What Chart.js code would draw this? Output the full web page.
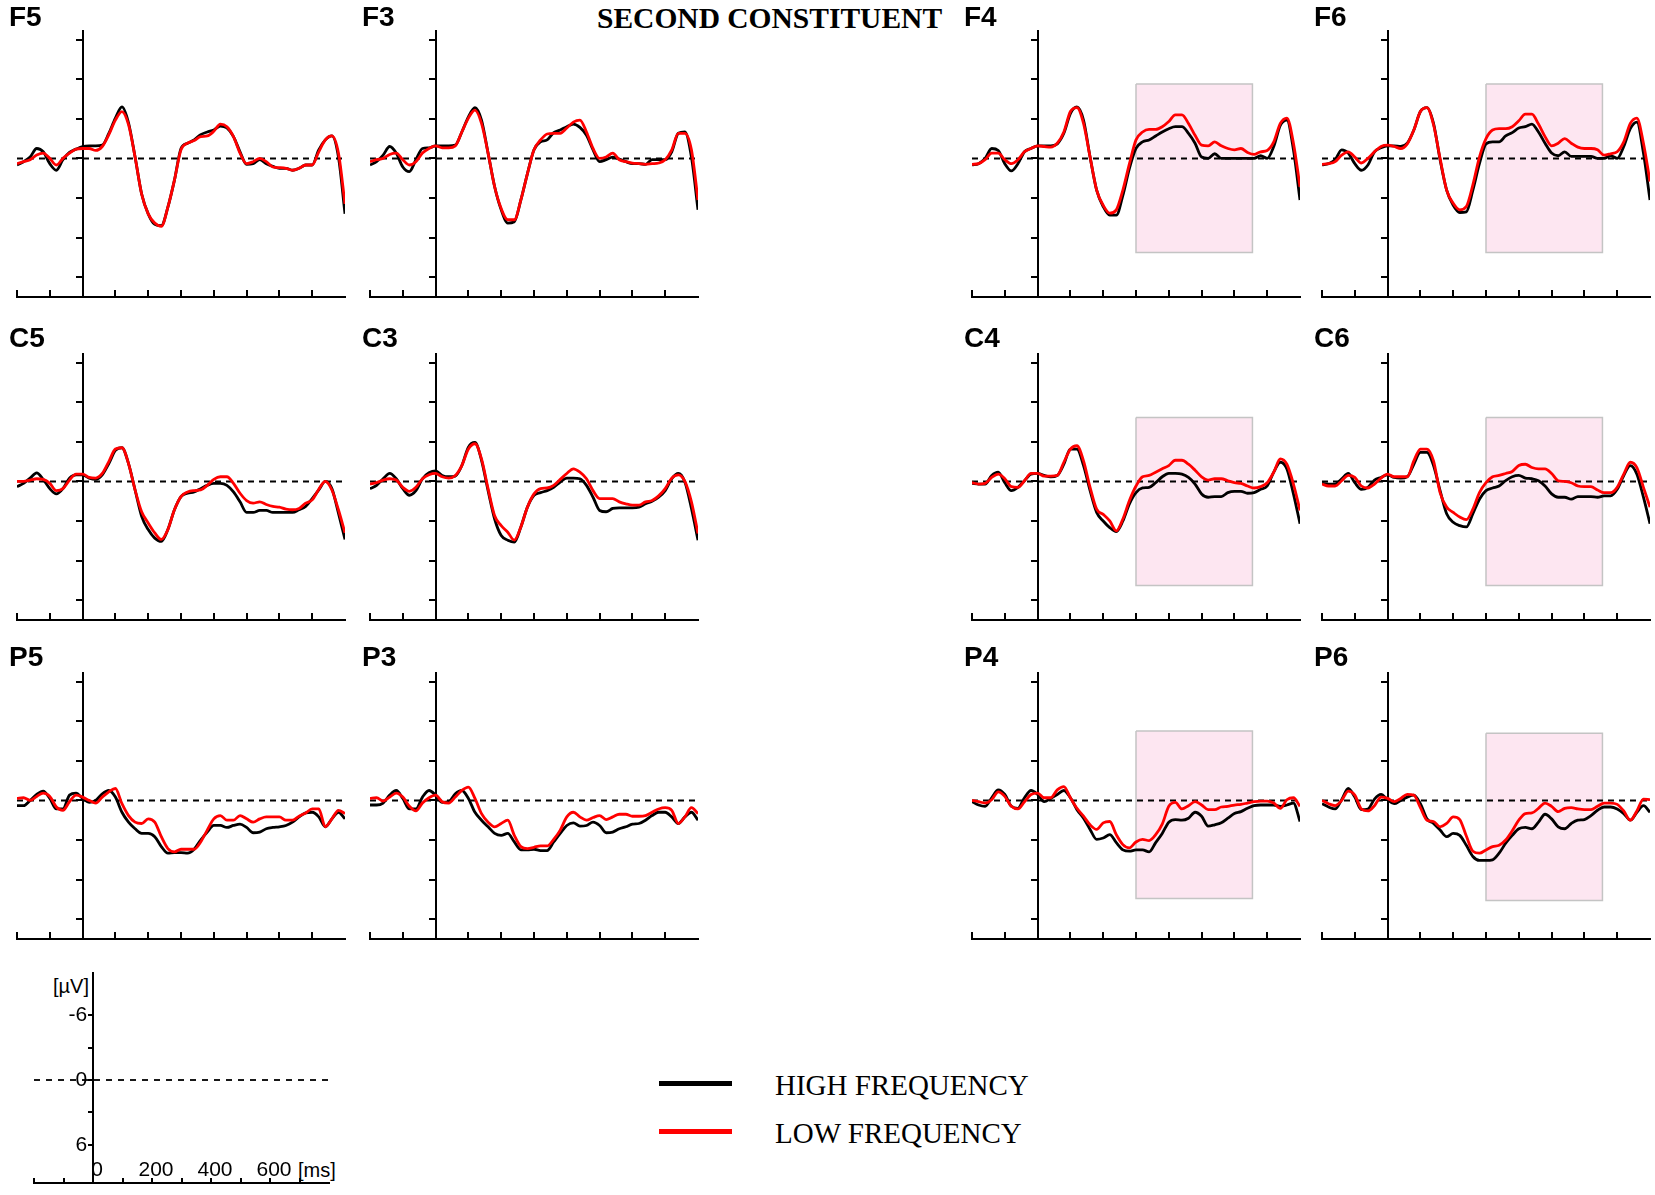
<!DOCTYPE html>
<html>
<head>
<meta charset="utf-8">
<title>Second constituent ERPs</title>
<script src="https://cdn.jsdelivr.net/npm/chart.js@4.4.7/dist/chart.umd.min.js"></script>
<style>
  html, body { margin: 0; padding: 0; background: #fff; }
  body { position: relative; width: 1655px; height: 1195px; overflow: hidden; font-family: "Liberation Sans", Arial, sans-serif; color: #000; }
  canvas { position: absolute; }
  .site { position: absolute; font-weight: bold; font-size: 28px; line-height: 28px; }
  .title { position: absolute; left: 597px; top: 4px; font-family: "Liberation Serif", "Times New Roman", serif; font-weight: bold; font-size: 29.5px; line-height: 28px; white-space: nowrap; }
  .unit { position: absolute; font-size: 20px; line-height: 20px; white-space: nowrap; }
  .key-line { position: absolute; left: 659px; width: 73px; height: 5px; }
  .key-text { position: absolute; left: 775px; font-family: "Liberation Serif", "Times New Roman", serif; font-size: 29px; line-height: 29px; white-space: nowrap; }
</style>
</head>
<body>
<div class="title">SECOND CONSTITUENT</div>
<div class="unit" style="left:53px;top:976px">[µV]</div>
<div class="unit" style="left:298px;top:1160px">[ms]</div>
<div class="key-line" style="top:1081px;background:#000"></div>
<div class="key-line" style="top:1129px;background:#ff0000"></div>
<div class="key-text" style="top:1071px">HIGH FREQUENCY</div>
<div class="key-text" style="top:1119px">LOW FREQUENCY</div>
<script>
Chart.defaults.font.family = '"Liberation Sans", Arial, sans-serif';
Chart.defaults.color = '#000';
Chart.defaults.animation = false;

// sample times in ms, shared by every waveform
const times = [-200, -180, -160, -140, -120, -100, -80, -60, -40, -20,
  0, 20, 40, 60, 80, 100, 120, 140, 160, 180, 200, 220, 240, 260, 280, 300,
  320, 340, 360, 380, 400, 420, 440, 460, 480, 500, 520, 540, 560, 580, 600,
  620, 640, 660, 680, 700, 720, 740, 760, 780, 800];

// amplitudes in µV (negative plotted up)
const f5High = [0.5, 0.25, -0.1, -0.75, -0.5, 0.4, 0.9, 0.1, -0.45, -0.7, -0.9, -0.95, -0.95, -1.0, -1.9, -3.05, -3.9, -2.7, -0.1, 2.7, 4.2, 5.0, 5.1, 3.7, 1.65, -0.75, -1.15, -1.4, -1.8, -2.0, -2.15, -2.45, -2.3, -1.65, -0.5, 0.45, 0.4, 0.1, 0.4, 0.6, 0.75, 0.75, 0.9, 0.75, 0.5, 0.5, -0.65, -1.4, -1.7, -0.1, 4.2];
const f5Low = [0.4, 0.25, 0.1, -0.25, -0.4, 0, 0.5, 0, -0.4, -0.7, -0.75, -0.75, -0.6, -0.9, -1.8, -2.9, -3.55, -2.55, -0.1, 2.7, 4.2, 4.9, 5.15, 3.7, 1.65, -0.65, -1.15, -1.35, -1.65, -1.7, -2.05, -2.6, -2.4, -1.65, -0.4, 0.4, 0.25, 0, 0.25, 0.65, 0.7, 0.75, 0.9, 0.75, 0.5, 0.5, -0.5, -1.4, -1.7, -0.4, 3.45];
const f3High = [0.5, 0.25, -0.25, -0.9, -0.4, 0.65, 1.0, 0.1, -0.75, -0.8, -0.95, -0.95, -0.95, -1.0, -2.0, -3.15, -3.85, -2.9, -0.4, 2.15, 3.9, 4.9, 4.8, 3.15, 1.15, -0.65, -1.25, -1.4, -1.95, -2.15, -2.4, -2.6, -2.35, -1.75, -0.65, 0.25, 0.1, -0.1, 0.05, 0.25, 0.4, 0.4, 0.45, 0.1, 0.1, 0.1, -0.5, -1.9, -2.0, -0.1, 3.9];
const f3Low = [0.25, 0.1, 0, -0.3, -0.4, 0.1, 0.5, 0.25, -0.4, -0.75, -0.95, -0.8, -0.8, -0.95, -2.0, -3.05, -3.65, -2.65, -0.4, 2.15, 3.8, 4.65, 4.65, 3.15, 1.15, -0.65, -1.4, -1.85, -1.9, -1.9, -2.3, -2.75, -2.9, -2.0, -0.75, 0, -0.1, -0.4, 0.1, 0.25, 0.35, 0.4, 0.45, 0.4, 0.35, 0.1, -0.65, -1.9, -1.9, -0.65, 3.15];
const f4High = [0.5, 0.4, 0, -0.75, -0.6, 0.4, 0.95, 0.4, -0.5, -0.75, -0.95, -0.95, -0.95, -1.1, -1.9, -3.4, -3.9, -2.9, -0.1, 2.4, 3.65, 4.3, 4.3, 2.8, 0.75, -0.75, -1.25, -1.4, -1.7, -2.0, -2.25, -2.4, -2.4, -1.9, -1.15, -0.1, 0, -0.35, 0, 0, 0, 0, 0, 0, -0.2, 0, -0.9, -2.5, -2.9, -0.65, 3.15];
const f4Low = [0.45, 0.4, 0.1, -0.4, -0.4, 0.1, 0.4, 0.1, -0.5, -0.75, -0.95, -0.9, -0.85, -1.15, -2.0, -3.55, -3.85, -2.65, -0.1, 2.4, 3.55, 4.15, 3.9, 2.4, 0.4, -1.4, -2.0, -2.2, -2.2, -2.4, -2.8, -3.3, -3.3, -2.65, -1.75, -1.0, -0.95, -1.25, -0.95, -0.75, -0.65, -0.75, -0.45, -0.3, -0.5, -0.6, -1.25, -2.65, -3.05, -1.15, 2.15];
const f6High = [0.5, 0.4, 0.1, -0.65, -0.4, 0.4, 0.9, 0.5, -0.5, -0.8, -0.95, -0.95, -0.9, -1.15, -2.15, -3.55, -3.85, -2.65, 0.1, 2.4, 3.55, 4.1, 4.05, 2.4, 0.4, -1.1, -1.25, -1.25, -1.7, -1.95, -2.3, -2.4, -2.6, -2.0, -1.15, -0.4, -0.2, -0.5, -0.15, -0.15, -0.15, -0.15, 0, 0, -0.2, 0, -0.9, -2.25, -2.75, -0.4, 3.15];
const f6Low = [0.45, 0.4, 0.25, -0.25, -0.5, -0.1, 0.35, 0, -0.5, -0.9, -1.0, -0.9, -0.75, -1.1, -2.15, -3.55, -3.85, -2.55, 0, 2.4, 3.4, 3.9, 3.65, 2.0, -0.1, -1.5, -2.15, -2.25, -2.25, -2.4, -2.85, -3.35, -3.35, -2.6, -1.65, -0.95, -1.15, -1.5, -1.15, -0.85, -0.75, -0.75, -0.65, -0.25, -0.35, -0.5, -1.25, -2.65, -3.05, -1.15, 1.75];
const c5High = [0.4, 0.15, -0.25, -0.65, -0.15, 0.55, 0.95, 0.55, -0.25, -0.5, -0.5, -0.25, -0.15, -0.5, -1.35, -2.35, -2.55, -1.35, 0.65, 2.65, 3.65, 4.3, 4.55, 3.65, 2.15, 1.15, 0.9, 0.8, 0.55, 0.3, 0.15, 0.15, 0.3, 0.8, 1.55, 2.35, 2.35, 2.2, 2.2, 2.35, 2.35, 2.35, 2.35, 2.15, 1.9, 1.3, 0.65, 0, 0.55, 2.4, 4.4];
const c5Low = [0, 0, -0.1, -0.2, -0.15, 0.15, 0.7, 0.55, -0.1, -0.55, -0.55, -0.3, -0.25, -0.6, -1.5, -2.45, -2.55, -1.35, 0.65, 2.3, 3.15, 3.9, 4.4, 3.65, 2.15, 1.15, 0.8, 0.7, 0.65, 0.3, -0.15, -0.35, -0.35, 0.15, 0.9, 1.45, 1.65, 1.55, 1.75, 1.9, 1.95, 2.1, 2.15, 2.05, 1.65, 1.4, 0.6, 0, 0.65, 2.15, 3.9];
const c3High = [0.55, 0.3, -0.2, -0.6, -0.2, 0.55, 1.05, 0.7, -0.2, -0.65, -0.8, -0.45, -0.35, -0.4, -1.2, -2.6, -2.95, -1.6, 0.7, 2.85, 4.1, 4.45, 4.6, 3.45, 1.95, 1.05, 0.85, 0.7, 0.45, 0.05, -0.25, -0.25, -0.2, 0.3, 1.2, 2.2, 2.3, 2.05, 2.0, 2.0, 2.0, 1.95, 1.7, 1.5, 1.2, 0.7, -0.2, -0.6, 0.05, 2.05, 4.45];
const c3Low = [0.2, 0.1, -0.1, -0.2, -0.1, 0.45, 0.75, 0.45, -0.2, -0.5, -0.6, -0.35, -0.25, -0.45, -1.2, -2.45, -2.85, -1.7, 0.55, 2.6, 3.35, 3.85, 4.45, 3.45, 1.95, 0.95, 0.55, 0.5, 0.3, -0.15, -0.6, -0.95, -0.7, -0.2, 0.7, 1.3, 1.3, 1.3, 1.55, 1.7, 1.8, 1.8, 1.55, 1.45, 1.1, 0.55, -0.25, -0.5, 0, 1.55, 3.95];
const c4High = [0.15, 0.2, 0.2, -0.45, -0.7, 0.1, 0.7, 0.45, -0.05, -0.55, -0.6, -0.45, -0.35, -0.45, -1.3, -2.45, -2.45, -1.2, 0.7, 2.35, 3.0, 3.5, 3.8, 3.0, 1.7, 0.85, 0.5, 0.45, 0.1, -0.35, -0.6, -0.6, -0.55, -0.3, 0.2, 0.95, 1.2, 1.15, 1.15, 0.85, 0.75, 0.75, 0.9, 0.85, 0.6, 0.35, -0.7, -1.45, -0.95, 0.95, 3.2];
const c4Low = [0.1, 0.2, 0.15, -0.3, -0.55, -0.2, 0.4, 0.45, -0.05, -0.6, -0.6, -0.4, -0.4, -0.45, -1.45, -2.45, -2.7, -1.55, 0.45, 2.1, 2.5, 3.0, 3.75, 2.85, 1.45, 0.35, -0.35, -0.45, -0.7, -0.95, -1.2, -1.6, -1.6, -1.3, -0.85, -0.35, -0.1, -0.2, -0.2, -0.05, 0.1, 0.15, 0.35, 0.5, 0.4, 0.1, -0.7, -1.7, -1.3, 0.2, 2.2];
const c6High = [0.15, 0.2, 0.2, -0.2, -0.6, 0.1, 0.6, 0.45, -0.1, -0.3, -0.5, -0.3, -0.25, -0.35, -1.3, -2.2, -2.2, -1.2, 0.7, 2.45, 3.1, 3.35, 3.45, 2.45, 1.35, 0.7, 0.5, 0.35, -0.05, -0.35, -0.45, -0.25, -0.2, -0.05, 0.35, 0.95, 1.2, 1.2, 1.35, 1.15, 1.15, 1.15, 1.2, 1.1, 1.1, 0.6, -0.45, -1.2, -0.55, 1.2, 3.2];
const c6Low = [0.2, 0.35, 0.35, -0.05, -0.45, -0.3, 0.35, 0.5, 0.2, -0.25, -0.55, -0.35, -0.35, -0.35, -1.55, -2.45, -2.45, -1.55, 0.85, 1.95, 2.35, 2.7, 2.9, 2.1, 0.85, 0.1, -0.35, -0.45, -0.6, -0.75, -1.2, -1.3, -1.05, -0.95, -0.95, -0.6, -0.05, 0, 0.1, 0.35, 0.4, 0.4, 0.65, 0.85, 0.85, 0.45, -0.55, -1.45, -1.05, 0.45, 1.95];
const p5High = [0.4, 0.4, 0, -0.45, -0.7, -0.15, 0.65, 0.65, -0.4, -0.55, -0.15, 0.15, 0, -0.5, -0.75, -0.25, 0.9, 1.65, 2.15, 2.5, 2.5, 2.75, 3.5, 4.0, 3.95, 3.95, 4.0, 3.7, 3.0, 2.4, 1.9, 1.9, 2.05, 1.9, 1.8, 2.05, 2.45, 2.4, 2.15, 2.05, 2.0, 1.9, 1.65, 1.25, 0.95, 0.9, 1.25, 2.0, 1.4, 0.9, 1.4];
const p5Low = [-0.15, -0.2, 0, -0.3, -0.55, -0.3, 0.5, 0.75, 0.1, -0.4, -0.25, 0, 0.2, -0.25, -0.65, -0.9, 0.25, 1.15, 1.65, 1.75, 1.4, 1.65, 2.75, 3.65, 3.9, 3.7, 3.7, 3.7, 3.15, 2.25, 1.4, 1.15, 1.5, 1.5, 1.15, 1.4, 1.65, 1.4, 1.25, 1.25, 1.25, 1.5, 1.5, 1.2, 0.95, 0.65, 0.65, 2.0, 1.4, 0.75, 1.0];
const p3High = [0.35, 0.35, 0.2, -0.4, -0.75, -0.15, 0.65, 0.65, -0.25, -0.75, -0.4, 0.15, 0.1, -0.5, -0.75, -0.15, 0.9, 1.5, 2.0, 2.5, 2.65, 2.5, 3.15, 3.75, 3.75, 3.7, 3.8, 3.8, 3.15, 2.5, 1.9, 1.7, 1.95, 1.9, 1.65, 1.9, 2.45, 2.4, 2.15, 2.0, 1.8, 1.75, 1.5, 1.15, 0.9, 0.9, 1.25, 1.75, 1.25, 0.9, 1.5];
const p3Low = [-0.15, -0.2, 0.05, -0.25, -0.55, -0.25, 0.45, 0.8, 0.2, -0.2, -0.4, 0.1, 0.2, -0.25, -0.75, -1.0, -0.15, 1.0, 1.65, 2.0, 1.75, 1.5, 2.65, 3.5, 3.65, 3.55, 3.45, 3.45, 2.95, 2.25, 1.25, 0.9, 1.25, 1.5, 1.3, 1.15, 1.45, 1.25, 1.05, 1.05, 1.2, 1.2, 1.15, 0.9, 0.65, 0.55, 0.75, 1.75, 1.25, 0.55, 1.0];
const p4High = [0.1, 0.35, 0.45, -0.2, -0.8, -0.45, 0.45, 0.6, -0.2, -0.75, -0.45, 0.1, -0.15, -0.45, -0.75, -0.2, 0.7, 1.35, 2.2, 2.95, 2.85, 2.6, 3.2, 3.75, 3.85, 3.75, 3.75, 3.9, 3.2, 2.5, 1.65, 1.45, 1.5, 1.35, 0.9, 1.2, 1.95, 1.85, 1.7, 1.35, 1.0, 0.85, 0.6, 0.4, 0.35, 0.35, 0.35, 0.45, 0.35, 0.2, 1.6];
const p4Low = [0, 0.1, 0.2, -0.05, -0.65, -0.3, 0.45, 0.65, 0.1, -0.45, -0.55, -0.2, -0.2, -0.8, -1.05, -0.2, 0.6, 1.2, 1.85, 2.2, 1.7, 1.6, 2.6, 3.35, 3.6, 3.15, 2.95, 3.05, 2.6, 1.8, 0.45, 0.15, 0.65, 0.4, 0.1, 0.35, 0.7, 0.7, 0.5, 0.45, 0.35, 0.3, 0.2, 0.1, 0.05, 0.05, 0.2, 0.6, -0.05, -0.2, 0.45];
const p6High = [0.25, 0.5, 0.65, -0.05, -0.9, -0.25, 0.7, 0.65, -0.1, -0.45, -0.05, 0.25, 0, -0.25, -0.4, 0.25, 1.4, 1.75, 2.25, 2.75, 2.5, 2.65, 3.4, 4.25, 4.55, 4.55, 4.5, 4.0, 3.25, 2.65, 2.15, 2.05, 2.15, 1.65, 1.05, 1.4, 2.0, 2.15, 1.75, 1.5, 1.45, 1.15, 0.75, 0.5, 0.5, 0.65, 1.0, 1.5, 0.9, 0.4, 0.9];
const p6Low = [0, 0.25, 0.4, 0, -0.7, -0.4, 0.65, 0.8, 0.4, -0.25, -0.15, 0.1, -0.15, -0.45, -0.4, 0.55, 1.5, 1.6, 2.0, 1.75, 1.25, 1.45, 2.7, 3.85, 4.0, 3.75, 3.5, 3.4, 3.0, 2.3, 1.5, 1.0, 0.95, 0.6, 0.2, 0.45, 0.85, 0.6, 0.55, 0.65, 0.7, 0.7, 0.45, 0.2, 0.2, 0.3, 0.8, 1.5, 0.8, -0.1, -0.05];

// analysis window (ms) and its amplitude extent per panel (µV)
const boxTimes = [300, 655];
const frontBox = [-5.63, 7.12];
const centralBox = [-4.84, 7.88];
const p4Box = [-5.26, 7.43];
const p6Box = [-5.08, 7.59];

// zero reference line
const baselineTimes = [-200, 800];
const baseline = [0, 0];

// axis ticks
const xTicks = [-200, -100, 0, 100, 200, 300, 400, 500, 600, 700];
const yTicks = [-9, -6, -3, 0, 3, 6, 9];
const scaleYTicks = [-6, -3, 0, 3, 6];
const scaleYLabels = [-6, 0, 6];
const scaleXLabels = [0, 200, 400, 600];

const AREA_W = 328, AREA_H = 266, PAD = 12;
const colLeft = [17, 370, 972, 1322];
const rowTop = [31, 354, 673];
const labelLeft = [9, 362, 964, 1314];
const labelTop = [3, 324, 643];

const panels = [
  { name: 'F5', high: f5High, low: f5Low, col: 0, row: 0 },
  { name: 'F3', high: f3High, low: f3Low, col: 1, row: 0 },
  { name: 'F4', high: f4High, low: f4Low, col: 2, row: 0, box: frontBox },
  { name: 'F6', high: f6High, low: f6Low, col: 3, row: 0, box: frontBox },
  { name: 'C5', high: c5High, low: c5Low, col: 0, row: 1 },
  { name: 'C3', high: c3High, low: c3Low, col: 1, row: 1 },
  { name: 'C4', high: c4High, low: c4Low, col: 2, row: 1, box: centralBox },
  { name: 'C6', high: c6High, low: c6Low, col: 3, row: 1, box: centralBox },
  { name: 'P5', high: p5High, low: p5Low, col: 0, row: 2 },
  { name: 'P3', high: p3High, low: p3Low, col: 1, row: 2 },
  { name: 'P4', high: p4High, low: p4Low, col: 2, row: 2, box: p4Box },
  { name: 'P6', high: p6High, low: p6Low, col: 3, row: 2, box: p6Box }
];

function toPoints(xs, ys) {
  return ys.map((y, i) => ({ x: xs[i], y: y }));
}

function addCanvas(left, top, w, h, pad) {
  const c = document.createElement('canvas');
  c.width = w + 2 * pad;
  c.height = h + 2 * pad;
  c.style.width = c.width + 'px';
  c.style.height = c.height + 'px';
  c.style.left = (left - pad) + 'px';
  c.style.top = (top - pad) + 'px';
  document.body.appendChild(c);
  return c;
}

function baseScales(yMin, yMax, yTickValues) {
  return {
    x: {
      type: 'linear', min: -200, max: 800,
      afterBuildTicks: s => { s.ticks = xTicks.map(v => ({ value: v })); },
      afterFit: s => { s.height = 0; },
      grid: { drawOnChartArea: false, tickLength: -7, color: '#000', lineWidth: 2 },
      border: { color: '#000', width: 2 },
      ticks: { display: false }
    },
    y: {
      type: 'linear', reverse: true, min: yMin, max: yMax, position: { x: 0 },
      afterBuildTicks: s => { s.ticks = yTickValues.map(v => ({ value: v })); },
      afterFit: s => { s.width = 0; },
      grid: { drawOnChartArea: false, tickLength: 6, color: '#000', lineWidth: 2 },
      border: { color: '#000', width: 2 },
      ticks: { display: false }
    }
  };
}

function chartOptions(pad, scales) {
  return {
    responsive: false,
    devicePixelRatio: 1,
    animation: false,
    layout: { padding: pad },
    plugins: { legend: { display: false }, tooltip: { enabled: false } },
    elements: { point: { radius: 0 } },
    scales: scales
  };
}

panels.forEach(p => {
  const canvas = addCanvas(colLeft[p.col], rowTop[p.row], AREA_W, AREA_H, PAD);

  const label = document.createElement('div');
  label.className = 'site';
  label.textContent = p.name;
  label.style.left = labelLeft[p.col] + 'px';
  label.style.top = labelTop[p.row] + 'px';
  document.body.appendChild(label);

  const datasets = [
    { label: 'LOW FREQUENCY', data: toPoints(times, p.low), borderColor: '#ff0000', borderWidth: 2.8, cubicInterpolationMode: 'monotone', fill: false },
    { label: 'HIGH FREQUENCY', data: toPoints(times, p.high), borderColor: '#000000', borderWidth: 2.8, cubicInterpolationMode: 'monotone', fill: false },
    { label: 'zero', data: toPoints(baselineTimes, baseline), borderColor: '#000000', borderWidth: 2, borderDash: [6, 5], fill: false }
  ];
  if (p.box) {
    const [lo, hi] = p.box;
    const [t0, t1] = boxTimes;
    datasets.push({
      label: 'window',
      data: [{ x: t0, y: lo }, { x: t1, y: lo }, { x: t1, y: hi }, { x: t0, y: hi }, { x: t0, y: lo }],
      borderColor: '#c4c4c4', borderWidth: 1.5, backgroundColor: '#fde6f1', fill: 'shape'
    });
  }

  new Chart(canvas, {
    type: 'line',
    data: { datasets },
    options: chartOptions(PAD, baseScales(-9.65, 10.5, yTicks))
  });
});

// calibration panel; wider padding so label space never moves the plot area
const SCALE_PAD = 30;
const scaleCanvas = addCanvas(34, 973, 295, 210, SCALE_PAD);
const scaleScales = baseScales(-9.88, 9.51, scaleYTicks);
scaleScales.x.grid.tickLength = -5;
// mirror keeps the labels unclipped so they can sit just above the axis
scaleScales.x.ticks = {
  display: true, autoSkip: false, maxRotation: 0, mirror: true, padding: 0, labelOffset: 4,
  font: { size: 21 },
  callback: v => scaleXLabels.includes(v) ? String(v) : ''
};
scaleScales.y.grid.tickLength = 4;
scaleScales.y.ticks = {
  display: true, autoSkip: false, font: { size: 21 },
  callback: v => scaleYLabels.includes(v) ? String(v) + ' ' : ''
};
new Chart(scaleCanvas, {
  type: 'line',
  data: {
    datasets: [
      { label: 'zero', data: toPoints(baselineTimes, baseline), borderColor: '#000000', borderWidth: 1.8, borderDash: [6, 6], fill: false }
    ]
  },
  options: chartOptions(SCALE_PAD, scaleScales)
});
</script>
</body>
</html>
